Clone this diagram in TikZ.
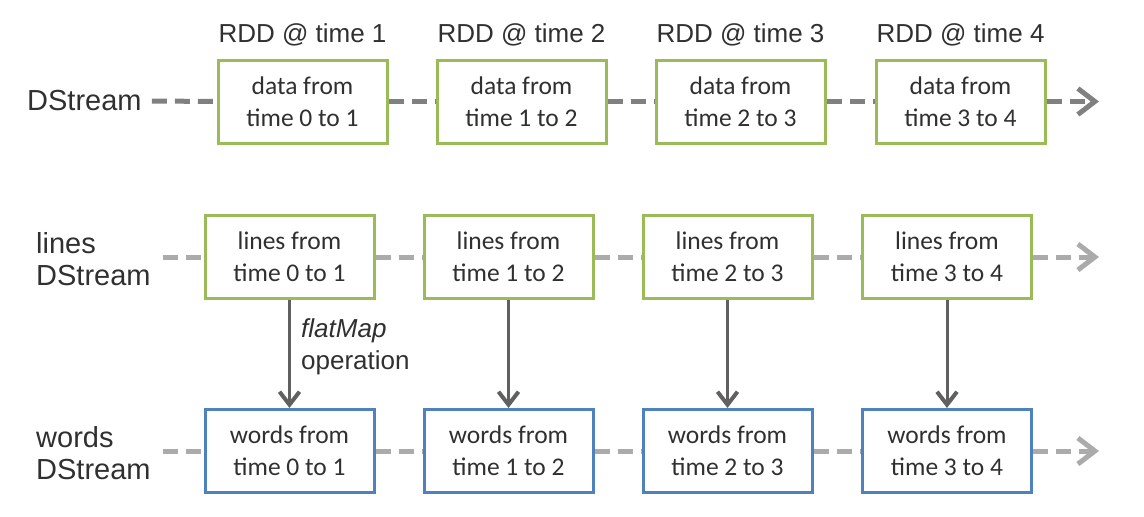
\documentclass[tikz,border=0pt]{standalone}
\usepackage{fontspec}
\setmainfont{Liberation Sans}
\newfontfamily\boxfont{Carlito}
\usetikzlibrary{arrows.meta}
\definecolor{grn}{HTML}{9BBB59}
\definecolor{blu}{HTML}{4F81BD}
\definecolor{dk}{HTML}{808080}
\definecolor{lt}{HTML}{ABABAB}
\definecolor{arr}{HTML}{606060}
\definecolor{txt}{HTML}{303030}
\begin{document}
\begin{tikzpicture}[x=1pt,y=-1pt,
  rdd/.style={draw=grn,line width=3pt,fill=white,minimum width=169pt,minimum height=83pt,inner sep=0pt,align=center,font=\boxfont\fontsize{25.5}{32}\selectfont,text=txt},
  wrd/.style={rdd,draw=blu},
  lbl/.style={font=\fontsize{26}{32}\selectfont,text=txt,inner sep=0pt},
  side/.style={font=\fontsize{29}{32}\selectfont,text=txt,inner sep=0pt,align=left},
  dtop/.style={draw=dk,line width=5pt,dash pattern=on 15pt off 8pt},
  dlow/.style={draw=lt,line width=5pt,dash pattern=on 15pt off 8pt},
  tip/.style={-{Straight Barb[length=17pt,width=26pt,line width=5pt]}},
  down/.style={draw=arr,line width=3pt,-{Straight Barb[length=13pt,width=20pt,line width=4pt]}}]
\useasboundingbox (0,0) rectangle (1144,517);
% left labels
\node[side,anchor=west] (ds) at (27,101) {DStream};
\node[side,anchor=west] (ls) at (36,259) {lines\\DStream};
\node[side,anchor=west] (ws) at (36,453) {words\\DStream};
% top row
\foreach \i/\x in {1/302.5,2/521.5,3/740.5,4/960.5}{
  \pgfmathtruncatemacro{\a}{\i-1}
  \node[rdd] (t\i) at (\x,101.5) {data from\\time \a{} to \i};
  \node[lbl] (r\i) at (\x,35) {RDD @ time \i};
}
% middle and bottom rows
\foreach \i/\x in {1/289.5,2/508.5,3/727.5,4/947}{
  \pgfmathtruncatemacro{\a}{\i-1}
  \node[rdd] (l\i) at (\x,257) {lines from\\time \a{} to \i};
  \node[wrd] (w\i) at (\x,451) {words from\\time \a{} to \i};
}
\coordinate (te) at (1099,101.5);
\coordinate (le) at (1099,257);
\coordinate (we) at (1099,451);
\coordinate (ls0) at (163,257);
\coordinate (ws0) at (163,451);
% dashed connectors
\draw[dtop] ([xshift=10pt]ds.east) -- (t1.west);
\draw[dtop] (t1.east) -- (t2.west);
\draw[dtop] (t2.east) -- (t3.west);
\draw[dtop] (t3.east) -- (t4.west);
\draw[dtop,tip] (t4.east) -- (te);
\draw[dlow] (ls0) -- (l1.west);
\draw[dlow] (l1.east) -- (l2.west);
\draw[dlow] (l2.east) -- (l3.west);
\draw[dlow] (l3.east) -- (l4.west);
\draw[dlow,tip] (l4.east) -- (le);
\draw[dlow] (ws0) -- (w1.west);
\draw[dlow] (w1.east) -- (w2.west);
\draw[dlow] (w2.east) -- (w3.west);
\draw[dlow] (w3.east) -- (w4.west);
\draw[dlow,tip] (w4.east) -- (we);
% vertical arrows
\foreach \i in {1,2,3,4}{
  \draw[down] (l\i.south) -- (w\i.north);
}
\node[lbl,anchor=west,align=left] (fm) at (301,347) {\textit{flatMap}\\operation};
\end{tikzpicture}
\end{document}
